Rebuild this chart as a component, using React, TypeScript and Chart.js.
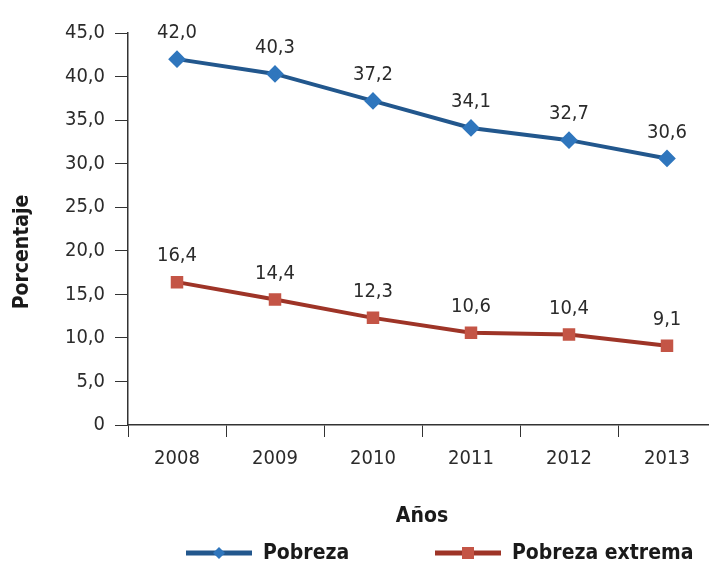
import React, { useEffect, useRef } from "react";
import { Chart, registerables } from "chart.js";

Chart.register(...registerables);

const years = ["2008", "2009", "2010", "2011", "2012", "2013"];
const pobreza = [42.0, 40.3, 37.2, 34.1, 32.7, 30.6];
const pobrezaExtrema = [16.4, 14.4, 12.3, 10.6, 10.4, 9.1];
const seriesNames = ["Pobreza", "Pobreza extrema"];
const yTitle = "Porcentaje";
const xTitle = "Años";

const FONT = "'Liberation Sans Narrow', 'Arial Narrow', 'DejaVu Sans Condensed', sans-serif";
const BLUE_LINE = "#22578d";
const BLUE_POINT = "#2f76bd";
const RED_LINE = "#9e3427";
const RED_POINT = "#c45546";
const TEXT = "#2b2b2b";

const fmt = (v: number) => v.toFixed(1).replace(".", ",");

const dataLabels = {
  id: "dataLabels",
  afterDatasetsDraw(chart: any) {
    const ctx = chart.ctx;
    ctx.save();
    ctx.font = `20px ${FONT}`;
    ctx.fillStyle = TEXT;
    ctx.textAlign = "center";
    ctx.textBaseline = "middle";
    chart.data.datasets.forEach((ds: any, i: number) => {
      const meta = chart.getDatasetMeta(i);
      meta.data.forEach((pt: any, j: number) => {
        ctx.fillText(fmt(ds.data[j]), pt.x, pt.y - 26);
      });
    });
    ctx.restore();
  },
};

const customTitlesAndLegend = {
  id: "customLegend",
  afterDraw(chart: any) {
    const ctx = chart.ctx;
    ctx.save();
    ctx.translate(23, 252);
    ctx.rotate(-Math.PI / 2);
    ctx.fillStyle = "#1a1a1a";
    ctx.font = `bold 21px ${FONT}`;
    ctx.textAlign = "center";
    ctx.textBaseline = "middle";
    ctx.fillText(yTitle, 0, 0);
    ctx.restore();

    ctx.save();
    const y = 553;
    const items = [
      { x: 186, color: BLUE_LINE, pcolor: BLUE_POINT, style: "diamond" },
      { x: 435, color: RED_LINE, pcolor: RED_POINT, style: "square" },
    ];
    items.forEach((it, i) => {
      ctx.strokeStyle = it.color;
      ctx.lineWidth = 5;
      ctx.beginPath();
      ctx.moveTo(it.x, y);
      ctx.lineTo(it.x + 66, y);
      ctx.stroke();
      ctx.fillStyle = it.pcolor;
      const cx = it.x + 33;
      if (it.style === "diamond") {
        ctx.beginPath();
        ctx.moveTo(cx, y - 6);
        ctx.lineTo(cx + 6, y);
        ctx.lineTo(cx, y + 6);
        ctx.lineTo(cx - 6, y);
        ctx.closePath();
        ctx.fill();
      } else {
        ctx.fillRect(cx - 6, y - 6, 12, 12);
      }
      ctx.fillStyle = "#1a1a1a";
      ctx.font = `bold 21px ${FONT}`;
      ctx.textAlign = "left";
      ctx.textBaseline = "middle";
      ctx.fillText(seriesNames[i], it.x + 77, y + 1);
    });
    ctx.restore();
  },
};

export default function App() {
  const ref = useRef<HTMLCanvasElement>(null);
  useEffect(() => {
    if (!ref.current) return;
    const chart = new Chart(ref.current, {
      type: "line",
      data: {
        labels: years,
        datasets: [
          {
            label: seriesNames[0],
            data: pobreza,
            borderColor: BLUE_LINE,
            backgroundColor: BLUE_POINT,
            pointBackgroundColor: BLUE_POINT,
            pointBorderColor: BLUE_POINT,
            borderWidth: 4,
            pointStyle: "rectRot",
            pointRadius: 6,
            tension: 0,
          },
          {
            label: seriesNames[1],
            data: pobrezaExtrema,
            borderColor: RED_LINE,
            backgroundColor: RED_POINT,
            pointBackgroundColor: RED_POINT,
            pointBorderColor: RED_POINT,
            borderWidth: 4,
            pointStyle: "rect",
            pointRadius: 6,
            tension: 0,
          },
        ],
      },
      options: {
        animation: false,
        responsive: false,
        layout: { padding: { top: 33, right: 0, bottom: 32, left: 0 } },
        plugins: { legend: { display: false }, tooltip: { enabled: false } },
        scales: {
          x: {
            offset: true,
            grid: {
              drawOnChartArea: false,
              drawTicks: true,
              tickLength: 12,
              color: "#333",
              offset: true,
            },
            border: { display: true, color: "#333", width: 1.5 },
            ticks: { color: TEXT, font: { family: FONT, size: 20 }, padding: 10 },
            title: {
              display: true,
              text: xTitle,
              color: "#1a1a1a",
              font: { family: FONT, size: 21, weight: "bold" },
              padding: { top: 0, bottom: 6 },
            },
            afterFit(scale: any) {
              scale.height = 110;
            },
          },
          y: {
            min: 0,
            max: 45,
            grid: {
              drawOnChartArea: false,
              drawTicks: true,
              tickLength: 13,
              color: "#333",
            },
            border: { display: true, color: "#333", width: 1.5 },
            ticks: {
              stepSize: 5,
              color: TEXT,
              font: { family: FONT, size: 20 },
              padding: 10,
              callback: (v: any) => (Number(v) === 0 ? "0" : fmt(Number(v))),
            },
            title: { display: false },
            afterFit(scale: any) {
              scale.width = 128;
            },
          },
        },
      },
      plugins: [dataLabels, customTitlesAndLegend],
    });
    return () => chart.destroy();
  }, []);
  return (
    <div style={{ position: "fixed", left: 0, top: 0, width: 709, height: 567, overflow: "hidden", background: "#fff" }}>
      <canvas ref={ref} width={726} height={567} style={{ width: 726, height: 567, display: "block" }} />
    </div>
  );
}
